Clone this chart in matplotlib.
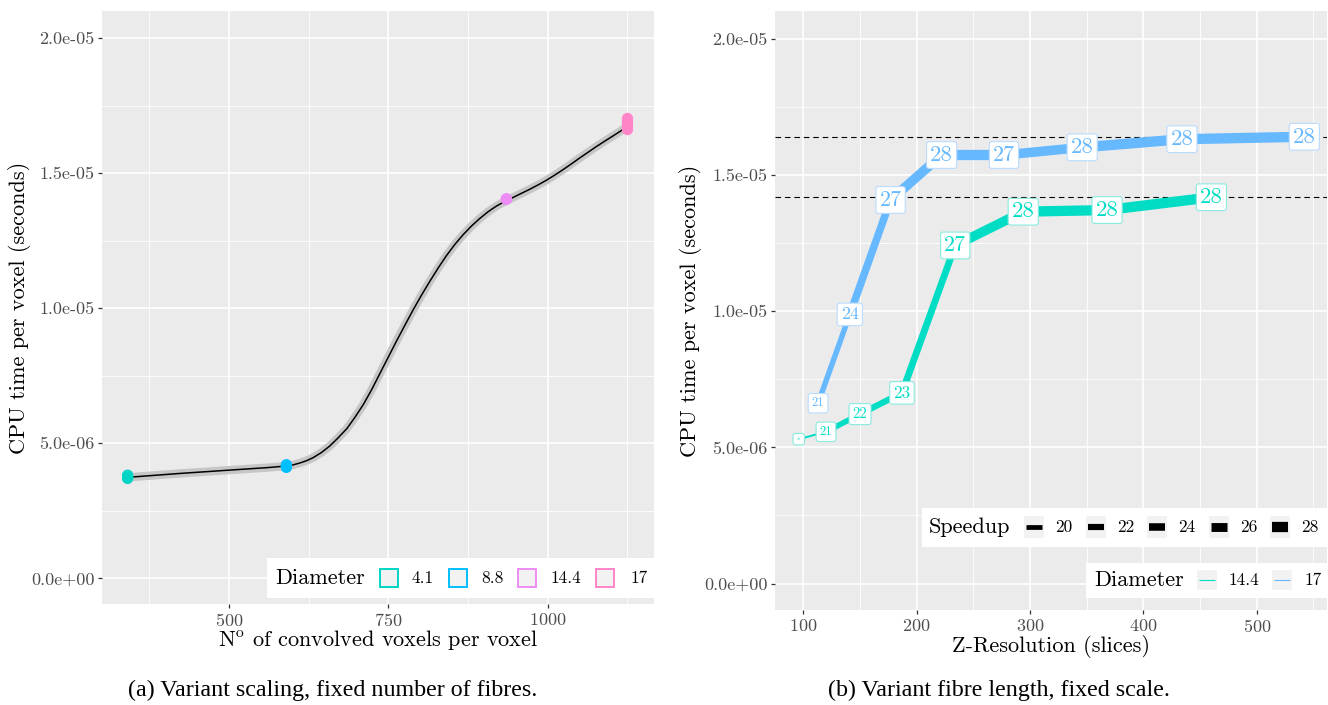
import matplotlib
matplotlib.use("Agg")
import matplotlib.pyplot as plt
from matplotlib.patches import Rectangle
from matplotlib.lines import Line2D

plt.rcParams['font.family'] = ['cmr10', 'DejaVu Serif']
plt.rcParams['mathtext.fontset'] = 'cm'
plt.rcParams['axes.unicode_minus'] = False
plt.rcParams['axes.formatter.use_mathtext'] = True

# ---- (a) variant scaling
diam_a = ['4.1', '8.8', '14.4', '17']
colors_a = ['#00D5C5', '#00BFFF', '#EE8CF5', '#FF85C8']
voxels_a = [341, 590, 935, 1125]
cpu_a = [[3.70e-6, 3.74e-6, 3.78e-6, 3.82e-6],
         [4.11e-6, 4.16e-6, 4.21e-6],
         [1.403e-5, 1.406e-5],
         [1.662e-5, 1.672e-5, 1.682e-5, 1.693e-5, 1.703e-5]]
# smooth fit
fit_x = [341, 420, 502, 560, 590, 600, 611, 622, 632, 645, 658, 671, 685,
         698, 711, 724, 737, 750, 763, 776, 789, 802, 815, 828, 841, 854,
         867, 880, 893, 906, 919, 932, 945, 958, 971, 984, 997, 1010, 1023,
         1036, 1049, 1062, 1075, 1088, 1100, 1112, 1124]
fit_y = [3.74e-6, 3.88e-6, 4.01e-6, 4.10e-6, 4.16e-6, 4.20e-6, 4.27e-6,
         4.36e-6, 4.47e-6, 4.66e-6, 4.90e-6, 5.20e-6, 5.55e-6, 5.98e-6,
         6.45e-6, 7.00e-6, 7.60e-6, 8.20e-6, 8.80e-6, 9.38e-6, 9.95e-6,
         1.049e-5, 1.100e-5, 1.149e-5, 1.195e-5, 1.236e-5, 1.272e-5,
         1.304e-5, 1.332e-5, 1.357e-5, 1.378e-5, 1.395e-5, 1.410e-5,
         1.425e-5, 1.440e-5, 1.456e-5, 1.473e-5, 1.492e-5, 1.512e-5,
         1.533e-5, 1.555e-5, 1.576e-5, 1.597e-5, 1.617e-5, 1.635e-5,
         1.653e-5, 1.672e-5]

# ---- (b) variant fibre length
zres_144 = [96, 120, 150, 187, 234, 294, 368, 460]
cpu_144 = [5.30e-6, 5.57e-6, 6.22e-6, 7.00e-6, 1.241e-5, 1.365e-5, 1.371e-5, 1.418e-5]
speed_144 = [16, 21, 22, 23, 27, 28, 28, 28]
zres_17 = [113, 141, 177, 222, 277, 346, 434, 542]
cpu_17 = [6.62e-6, 9.88e-6, 1.408e-5, 1.573e-5, 1.573e-5, 1.601e-5, 1.631e-5, 1.640e-5]
speed_17 = [21, 24, 27, 28, 27, 28, 28, 28]
green = '#00DDC4'
blue = '#66B8FF'
speed_breaks = [20, 22, 24, 26, 28]

yticks = [0, 5e-6, 1e-5, 1.5e-5, 2e-5]
ytick_labels = ['0.0e+00', '5.0e-06', '1.0e-05', '1.5e-05', '2.0e-05']
yminor = [2.5e-6, 7.5e-6, 1.25e-5, 1.75e-5]

W, H = 1328, 705
fig = plt.figure(figsize=(W / 100, H / 100), dpi=100)


def fx(px):
    return px / W


def fy(py):
    return 1 - py / H


def lw_pt(s):
    return (2 + 0.69 * (s - 16)) * 0.72


# label text size per speedup value (pt)
label_size = {16: 3, 21: 9, 22: 10.5, 23: 12.3, 24: 13, 27: 15.8, 28: 16.5}


def style(ax):
    ax.set_facecolor('#EBEBEB')
    for sp in ax.spines.values():
        sp.set_visible(False)
    ax.grid(which='major', color='white', lw=1.2)
    ax.grid(which='minor', color='white', lw=0.6)
    ax.set_axisbelow(True)
    ax.tick_params(which='major', length=3, width=0.9, color='#333333',
                   labelcolor='#4D4D4D', labelsize=13, pad=2.5)
    ax.tick_params(which='minor', length=0)
    ax.set_yticks(yticks)
    ax.set_yticklabels(ytick_labels)
    ax.set_yticks(yminor, minor=True)


# ---------- left panel
ax1 = fig.add_axes([fx(102), fy(604), 552 / W, 593 / H])
style(ax1)
ax1.plot(fit_x, fit_y, color='#C6C6C6', lw=6, solid_capstyle='butt', zorder=2)
ax1.plot(fit_x, fit_y, color='black', lw=1.1, zorder=3)
for x, ys, c in zip(voxels_a, cpu_a, colors_a):
    ax1.scatter([x] * len(ys), ys, s=66, color=c, edgecolors='none', zorder=4)
ax1.set_xlim(300.8, 1166.6)
ax1.set_ylim(-9.5e-7, 2.101e-5)
ax1.set_xticks([500, 750, 1000])
ax1.set_xticks([375, 625, 875, 1125], minor=True)
ax1.set_xlabel(r'N$^{\mathrm{o}}$ of convolved voxels per voxel', fontsize=16, va='center')
ax1.xaxis.set_label_coords(0.5, (604 - 640) / 593)
ax1.set_ylabel('CPU time per voxel (seconds)', fontsize=16, va='center')
ax1.yaxis.set_label_coords((20 - 102) / 552, 0.5)

# ---------- right panel
ax2 = fig.add_axes([fx(775), fy(610), 552 / W, 599 / H])
style(ax2)
ax2.axhline(max(cpu_17), color='black', lw=0.8, ls=(0, (5, 3.5)), zorder=2)
ax2.axhline(max(cpu_144), color='black', lw=0.8, ls=(0, (5, 3.5)), zorder=2)
for xs, ys, sp, c, ec in [(zres_144, cpu_144, speed_144, green, '#8AEBDF'),
                          (zres_17, cpu_17, speed_17, blue, '#BBDBFF')]:
    for i in range(len(xs) - 1):
        ax2.plot(xs[i:i + 2], ys[i:i + 2], color=c, lw=lw_pt(sp[i]),
                 solid_capstyle='round', zorder=3)
    for x, y, s in zip(xs, ys, sp):
        f = label_size[s]
        ax2.text(x, y, str(s), fontsize=f, color=c, ha='center', va='center',
                 zorder=5, bbox=dict(boxstyle='round,pad=%.3f,rounding_size=%.3f' % (2.6 / f, 1.8 / f),
                                     fc='white', ec=ec, lw=0.8))
ax2.set_xlim(75, 562)
ax2.set_ylim(-9.7e-7, 2.1016e-5)
ax2.set_xticks([100, 200, 300, 400, 500])
ax2.set_xticks([150, 250, 350, 450, 550], minor=True)
ax2.set_xlabel('Z-Resolution (slices)', fontsize=16, va='center')
ax2.xaxis.set_label_coords(0.5, (610 - 646) / 599)
ax2.set_ylabel('CPU time per voxel (seconds)', fontsize=16, va='center')
ax2.yaxis.set_label_coords((690 - 775) / 552, 0.5)


# ---------- legends (pixel layout)
def box(x0, y0, x1, y1, **kw):
    fig.add_artist(Rectangle((fx(x0), fy(y1)), (x1 - x0) / W, (y1 - y0) / H,
                             transform=fig.transFigure, **kw))


def hline(x0, x1, y, **kw):
    fig.add_artist(Line2D([fx(x0), fx(x1)], [fy(y), fy(y)],
                          transform=fig.transFigure, solid_capstyle='butt', **kw))


def txt(x, y, s, size):
    fig.text(fx(x), fy(y), s, fontsize=size, ha='left', va='center')


# diameter legend, panel (a)
box(267, 558, 654, 598, fc='white', ec='none')
txt(275, 578, 'Diameter', 16)
for k, (lab, c) in enumerate(zip(diam_a, colors_a)):
    kx = [379, 448, 517.4, 595.3][k]
    box(kx + 1, 568.5, kx + 19, 586.5, fc='#F2F2F2', ec=c, lw=1.4)
    txt([412, 481.6, 551, 630.5][k], 578, lab, 12.5)

# speedup legend, panel (b)
box(921.5, 508, 1327, 547, fc='white', ec='none')
txt(929, 527, 'Speedup', 16)
for k, s in enumerate(speed_breaks):
    kx = 1024 + 61.5 * k
    box(kx, 516, kx + 20, 538, fc='#F2F2F2', ec='none')
    hline(kx + 2, kx + 18, 527, color='black', lw=lw_pt(s))
    txt(kx + 31.5, 527, str(s), 12.5)

# diameter legend, panel (b)
box(1086, 563, 1327, 598, fc='white', ec='none')
txt(1094, 580, 'Diameter', 16)
for k, (lab, c) in enumerate([('14.4', green), ('17', blue)]):
    kx = [1197, 1272][k]
    box(kx, 570, kx + 20, 590, fc='#F2F2F2', ec='none')
    hline(kx + 2, kx + 18, 580, color=c, lw=0.8)
    txt([1229, 1305][k], 580, lab, 12.5)

# captions
fig.text(fx(333), fy(690), '(a) Variant scaling, fixed number of fibres.',
         family='Liberation Serif', fontsize=17.3, ha='center', va='center')
fig.text(fx(999), fy(690), '(b) Variant fibre length, fixed scale.',
         family='Liberation Serif', fontsize=17.3, ha='center', va='center')

fig.savefig('out.png', dpi=100)
